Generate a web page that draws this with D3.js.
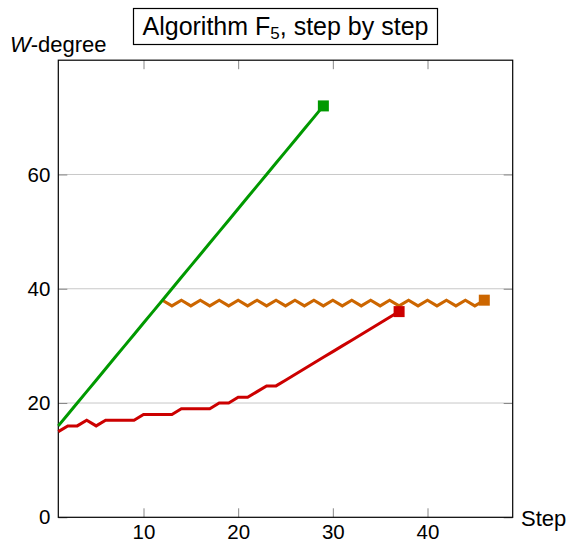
<!DOCTYPE html>
<html>
<head>
<meta charset="utf-8">
<script src="https://cdn.jsdelivr.net/npm/d3@7"></script>
<style>
  body { margin: 0; background: #fff; }
  svg { display: block; font-family: 'Liberation Sans', Arial, sans-serif; }
</style>
</head>
<body>
<svg id="chart"></svg>
<script>
'use strict'

// steps and W-degree values
const redSteps = [1, 2, 3, 4, 5, 6, 7, 8, 9, 10, 11, 12, 13, 14, 15, 16, 17, 18, 19, 20, 21, 22, 23, 24, 25, 26, 27, 28, 29, 30, 31, 32, 33, 34, 35, 36, 37]
const redValues = [15, 16, 16, 17, 16, 17, 17, 17, 17, 18, 18, 18, 18, 19, 19, 19, 19, 20, 20, 21, 21, 22, 23, 23, 24, 25, 26, 27, 28, 29, 30, 31, 32, 33, 34, 35, 36]

const greenSteps = [1, 2, 3, 4, 5, 6, 7, 8, 9, 10, 11, 12, 13, 14, 15, 16, 17, 18, 19, 20, 21, 22, 23, 24, 25, 26, 27, 28, 29]
const greenValues = [16, 18, 20, 22, 24, 26, 28, 30, 32, 34, 36, 38, 40, 42, 44, 46, 48, 50, 52, 54, 56, 58, 60, 62, 64, 66, 68, 70, 72]

const orangeSteps = [12, 13, 14, 15, 16, 17, 18, 19, 20, 21, 22, 23, 24, 25, 26, 27, 28, 29, 30, 31, 32, 33, 34, 35, 36, 37, 38, 39, 40, 41, 42, 43, 44, 45, 46]
const orangeValues = [38, 37, 38, 37, 38, 37, 38, 37, 38, 37, 38, 37, 38, 37, 38, 37, 38, 37, 38, 37, 38, 37, 38, 37, 38, 37, 38, 37, 38, 37, 38, 37, 38, 37, 38]

const xTicks = [10, 20, 30, 40]
const yTicks = [0, 20, 40, 60]

const width = 569
const height = 544
const plotLeft = 58.3
const plotRight = 512.7
const plotTop = 60.2
const plotBottom = 517.3

const svg = d3.select('#chart')
  .attr('width', width)
  .attr('height', height)

const x = d3.scaleLinear().domain([1, 49]).range([plotLeft, plotRight])
const y = d3.scaleLinear().domain([0, 80]).range([plotBottom, plotTop])

// horizontal grid
svg.append('g')
  .selectAll('line')
  .data(yTicks.filter(d => d > 0))
  .enter().append('line')
  .attr('x1', plotLeft).attr('x2', plotRight)
  .attr('y1', d => y(d)).attr('y2', d => y(d))
  .attr('stroke', '#c8c8c8')
  .attr('stroke-width', 1)

// inward ticks on all four sides
function styleAxis (g) {
  g.select('.domain').remove()
  g.selectAll('.tick line').attr('stroke', '#888').attr('stroke-width', 1)
  g.selectAll('.tick text').attr('fill', '#000').attr('font-size', 20.5).attr('font-family', null)
}

svg.append('g')
  .attr('transform', `translate(0,${plotBottom})`)
  .call(d3.axisBottom(x).tickValues(xTicks).tickSizeInner(-9).tickSizeOuter(0).tickPadding(7))
  .call(styleAxis)

svg.append('g')
  .attr('transform', `translate(0,${plotTop})`)
  .call(d3.axisTop(x).tickValues(xTicks).tickSizeInner(-9).tickSizeOuter(0).tickFormat(''))
  .call(styleAxis)

svg.append('g')
  .attr('transform', `translate(${plotLeft},0)`)
  .call(d3.axisLeft(y).tickValues(yTicks).tickSizeInner(-9).tickSizeOuter(0).tickPadding(8))
  .call(styleAxis)

svg.append('g')
  .attr('transform', `translate(${plotRight},0)`)
  .call(d3.axisRight(y).tickValues(yTicks).tickSizeInner(-9).tickSizeOuter(0).tickFormat(''))
  .call(styleAxis)

// frame
svg.append('rect')
  .attr('x', plotLeft).attr('y', plotTop)
  .attr('width', plotRight - plotLeft).attr('height', plotBottom - plotTop)
  .attr('fill', 'none')
  .attr('stroke', '#000')
  .attr('stroke-width', 1.2)

const line = d3.line()
  .x(d => x(d[0]))
  .y(d => y(d[1]))

const series = [
  { steps: orangeSteps, values: orangeValues, color: '#cc6600' },
  { steps: redSteps, values: redValues, color: '#cc0000' },
  { steps: greenSteps, values: greenValues, color: '#009900' }
]

series.forEach(s => {
  const pts = s.steps.map((d, i) => [d, s.values[i]])
  svg.append('path')
    .datum(pts)
    .attr('d', line)
    .attr('fill', 'none')
    .attr('stroke', s.color)
    .attr('stroke-width', 3)
    .attr('stroke-linejoin', 'miter')
  const last = pts[pts.length - 1]
  svg.append('rect')
    .attr('x', x(last[0]) - 5.5)
    .attr('y', y(last[1]) - 5.5)
    .attr('width', 11)
    .attr('height', 11)
    .attr('fill', s.color)
})

// axis labels
const wLabel = svg.append('text')
  .attr('x', 10)
  .attr('y', 52)
  .attr('font-size', 22)
wLabel.append('tspan').attr('font-style', 'italic').text('W')
wLabel.append('tspan').text('-degree')

svg.append('text')
  .attr('x', 521)
  .attr('y', 526)
  .attr('font-size', 22)
  .text('Step')

// title box
svg.append('rect')
  .attr('x', 133.5).attr('y', 8.5)
  .attr('width', 304).attr('height', 36)
  .attr('fill', '#fff')
  .attr('stroke', '#000')
  .attr('stroke-width', 1.2)

const title = svg.append('text')
  .attr('x', 285.5)
  .attr('y', 35)
  .attr('font-size', 25)
  .attr('text-anchor', 'middle')
title.append('tspan').text('Algorithm F')
title.append('tspan').attr('font-size', 17).attr('dy', 4).text('5')
title.append('tspan').attr('dy', -4).text(', step by step')
</script>
</body>
</html>
